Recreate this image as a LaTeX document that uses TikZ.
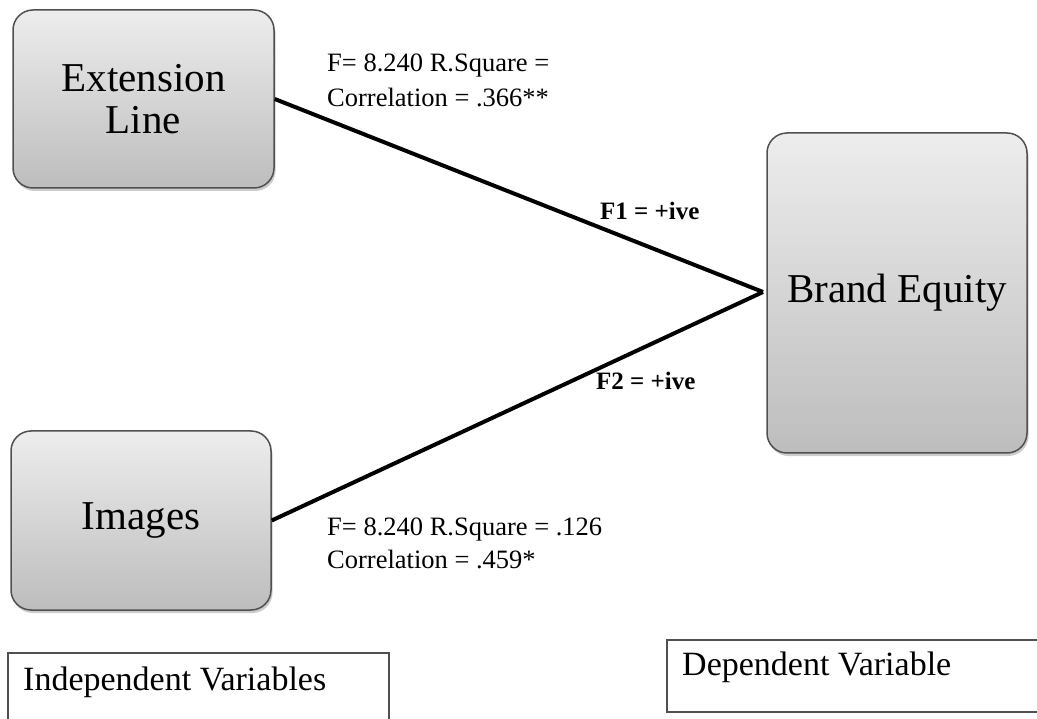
\documentclass[tikz,border=0pt]{standalone}
\usepackage{fontspec}
\setmainfont{Liberation Serif}
\usetikzlibrary{shadows}
\definecolor{boxtop}{HTML}{EDEDED}
\definecolor{boxbot}{HTML}{BDBDBD}
\definecolor{boxline}{HTML}{505050}
\tikzset{
  varbox/.style={draw=boxline, line width=1.5pt, rounded corners=20pt,
    top color=boxtop, bottom color=boxbot, align=center,
    drop shadow={shadow xshift=1.5pt, shadow yshift=-3pt, opacity=0.2, fill=black},
    font=\fontsize{41}{42}\selectfont, inner sep=0pt},
  link/.style={line width=4pt, black},
  stat/.style={anchor=base west, inner sep=0pt, font=\fontsize{26.5}{30}\selectfont},
  flabel/.style={anchor=base west, inner sep=0pt, font=\bfseries\fontsize{25}{28}\selectfont},
  legendbox/.style={draw=boxline, line width=1.5pt, fill=white},
  legendtext/.style={anchor=base west, inner sep=0pt, font=\fontsize{34}{36}\selectfont}
}
\begin{document}
\begin{tikzpicture}[x=1pt, y=-1pt]
\useasboundingbox[fill=white] (0,0) rectangle (1037,719);
% boxes
\node[varbox, minimum width=261pt, minimum height=178pt] (ext) at (143.5,99) {Extension\\Line};
\node[varbox, minimum width=260pt, minimum height=179pt] (img) at (141,520.5) {Images};
\node[varbox, minimum width=260pt, minimum height=320pt] (be) at (897,293) {Brand Equity};
% connectors
\coordinate (conv) at (763,292);
\draw[link] (ext.east) -- (conv);
\draw[link] (img.east) -- (conv);
% statistics
\node[stat] (s1a) at (327,72) {F= 8.240 R.Square =};
\node[stat] (s1b) at (327,106.5) {Correlation = .366**};
\node[stat] (s2a) at (327,535) {F= 8.240 R.Square = .126};
\node[stat] (s2b) at (327,568) {Correlation = .459*};
\node[flabel] (f1) at (600,220) {F1 = +ive};
\node[flabel] (f2) at (596,390) {F2 = +ive};
% legend boxes
\draw[legendbox] (8,653) rectangle (389,740);
\node[legendtext] (iv) at (23,690) {Independent Variables};
\draw[legendbox] (667,640) rectangle (1050,712);
\node[legendtext] (dv) at (682,675) {Dependent Variable};
\end{tikzpicture}
\end{document}
